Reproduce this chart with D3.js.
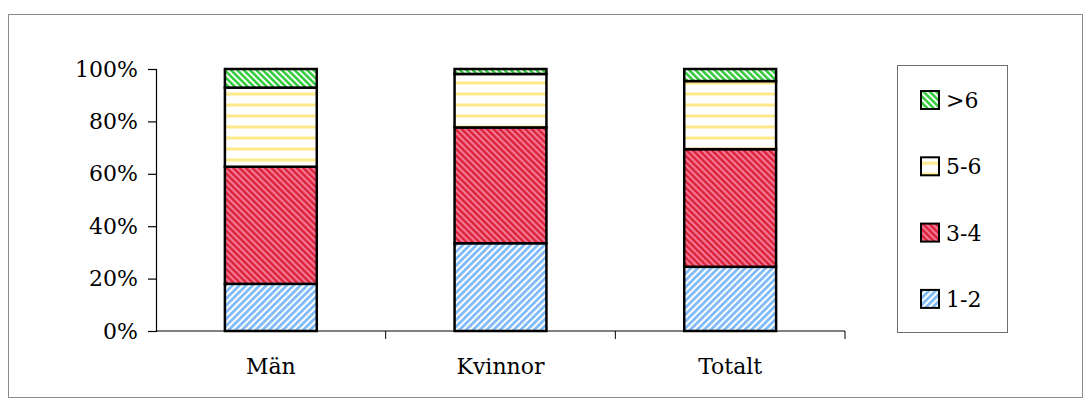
<!DOCTYPE html>
<html>
<head>
<meta charset="utf-8">
<script src="https://cdn.jsdelivr.net/npm/d3@7"></script>
<style>
  html, body { margin: 0; padding: 0; background: #fff; }
  svg text { font-family: "DejaVu Serif", "Liberation Serif", serif; fill: #000; }
</style>
</head>
<body>
<svg id="chart" width="1091" height="403"></svg>
<script>
// Share of respondents per group, stacked 100%
const categories = ["Män", "Kvinnor", "Totalt"];
const seriesNames = ["1-2", "3-4", "5-6", ">6"];
const s12 = [18.0, 33.5, 24.5];
const s34 = [44.7, 44.2, 44.9];
const s56 = [30.2, 20.4, 26.0];
const s6plus = [7.1, 1.9, 4.6];
const yTicks = [0, 0.2, 0.4, 0.6, 0.8, 1.0];

const seriesValues = [s12, s34, s56, s6plus];
const rows = categories.map((c, i) => {
  const r = { cat: c };
  seriesNames.forEach((s, k) => { r[s] = seriesValues[k][i] / 100; });
  return r;
});

const FONT = 22;
const svg = d3.select("#chart");
const defs = svg.append("defs");

// Hatch fills
function stripes(id, bg, fg, w, angle, lineW) {
  const p = defs.append("pattern")
    .attr("id", id)
    .attr("patternUnits", "userSpaceOnUse")
    .attr("width", w).attr("height", w)
    .attr("patternTransform", `rotate(${angle})`);
  p.append("rect").attr("width", w).attr("height", w).attr("fill", bg);
  p.append("rect").attr("x", 0).attr("y", 0).attr("width", lineW).attr("height", w).attr("fill", fg);
}
stripes("pBlue", "#ffffff", "#80bbf7", 4.8, 45, 2.8);
stripes("pRed", "#f5789a", "#da2336", 4.5, -45, 2.4);
stripes("pGreen", "#ffffff", "#36cc40", 4.5, -45, 2.6);
(function () {
  const p = defs.append("pattern")
    .attr("id", "pYellow")
    .attr("patternUnits", "userSpaceOnUse")
    .attr("width", 11).attr("height", 11);
  p.append("rect").attr("width", 11).attr("height", 11).attr("fill", "#ffffff");
  p.append("rect").attr("x", 0).attr("y", 4.5).attr("width", 11).attr("height", 3).attr("fill", "#fde98a");
})();
const fills = { "1-2": "url(#pBlue)", "3-4": "url(#pRed)", "5-6": "url(#pYellow)", ">6": "url(#pGreen)" };

// Outer frame
svg.append("rect")
  .attr("x", 8.5).attr("y", 14.5).attr("width", 1074).attr("height", 383)
  .attr("fill", "none").attr("stroke", "#8c8c8c").attr("stroke-width", 1);

const plot = { left: 156, right: 845, top: 69, bottom: 331 };

const x = d3.scaleBand()
  .domain(categories)
  .range([plot.left, plot.right])
  .paddingInner(0.6)
  .paddingOuter(0.3);

const y = d3.scaleLinear().domain([0, 1]).range([plot.bottom, plot.top]);

const stack = d3.stack().keys(seriesNames);
const stacked = stack(rows);

// Bars
const layers = svg.append("g").selectAll("g")
  .data(stacked)
  .join("g")
  .attr("fill", d => fills[d.key]);

layers.selectAll("rect")
  .data(d => d)
  .join("rect")
  .attr("x", d => x(d.data.cat))
  .attr("y", d => y(d[1]))
  .attr("width", x.bandwidth())
  .attr("height", d => y(d[0]) - y(d[1]))
  .attr("stroke", "#000")
  .attr("stroke-width", 2.5);

// Y axis
const yAxis = svg.append("g")
  .attr("transform", `translate(${plot.left},0)`)
  .call(d3.axisLeft(y).tickValues(yTicks).tickFormat(d3.format(".0%")).tickSize(8).tickPadding(10));
yAxis.select(".domain").attr("stroke", "#000").attr("stroke-width", 1.2);
yAxis.selectAll(".tick line").attr("stroke", "#000").attr("stroke-width", 1.2);
yAxis.selectAll(".tick text").attr("font-size", FONT).attr("font-family", "DejaVu Serif");

// X axis: baseline, boundary ticks and category labels
const xg = svg.append("g");
xg.append("line")
  .attr("x1", plot.left).attr("x2", plot.right)
  .attr("y1", plot.bottom).attr("y2", plot.bottom)
  .attr("stroke", "#000").attr("stroke-width", 1.2);
const step = x.step();
const bounds = d3.range(1, categories.length + 1).map(i => plot.left + i * step);
xg.selectAll("line.tick")
  .data(bounds)
  .join("line")
  .attr("class", "tick")
  .attr("x1", d => d).attr("x2", d => d)
  .attr("y1", plot.bottom).attr("y2", plot.bottom + 8)
  .attr("stroke", "#000").attr("stroke-width", 1);
xg.selectAll("text")
  .data(categories)
  .join("text")
  .attr("x", d => x(d) + x.bandwidth() / 2)
  .attr("y", 374)
  .attr("text-anchor", "middle")
  .attr("font-size", FONT)
  .text(d => d);

// Legend
const legend = svg.append("g");
legend.append("rect")
  .attr("x", 897.5).attr("y", 65.5).attr("width", 110).attr("height", 267)
  .attr("fill", "#fff").attr("stroke", "#6e6e6e").attr("stroke-width", 1);
const legendOrder = seriesNames.slice().reverse();
const li = legend.selectAll("g.item")
  .data(legendOrder)
  .join("g")
  .attr("class", "item")
  .attr("transform", (d, i) => `translate(921,${91 + i * 66.3})`);
li.append("rect")
  .attr("width", 18).attr("height", 18)
  .attr("fill", d => fills[d])
  .attr("stroke", "#000").attr("stroke-width", 2);
li.append("text")
  .attr("x", 25).attr("y", 17)
  .attr("font-size", FONT)
  .text(d => d);
</script>
</body>
</html>
